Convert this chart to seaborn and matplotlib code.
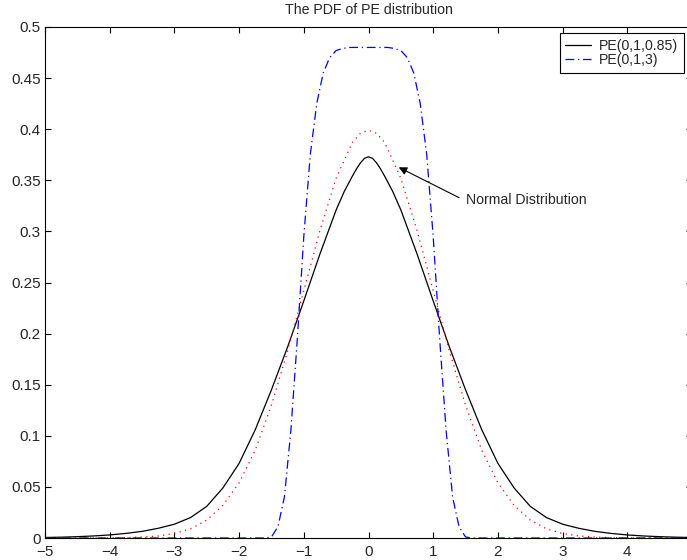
import numpy as np
import pandas as pd
import matplotlib
matplotlib.use("Agg")
import matplotlib.pyplot as plt
import seaborn as sns

# ---- data ----
x_pe085 = [-5.0, -4.75, -4.5, -4.25, -4.0, -3.75, -3.5, -3.25, -3.0, -2.75, -2.5, -2.25,
           -2.0, -1.75, -1.5, -1.25, -1.0, -0.75, -0.5, -0.375, -0.25, -0.1875, -0.125,
           -0.0625, 0.0, 0.0625, 0.125, 0.1875, 0.25, 0.375, 0.5, 0.75, 1.0, 1.25, 1.5,
           1.75, 2.0, 2.25, 2.5, 2.75, 3.0, 3.25, 3.5, 3.75, 4.0, 4.25, 4.5, 4.75, 5.0]
y_pe085 = [0.0005, 0.0008, 0.0013, 0.002, 0.003, 0.0045, 0.0065, 0.0095, 0.0135, 0.020,
           0.031, 0.049, 0.073, 0.106, 0.145, 0.187, 0.232, 0.278, 0.321, 0.339, 0.354,
           0.361, 0.367, 0.3715, 0.373, 0.3715, 0.367, 0.361, 0.354, 0.339, 0.321,
           0.278, 0.232, 0.187, 0.145, 0.106, 0.073, 0.049, 0.031, 0.020, 0.0135,
           0.0095, 0.0065, 0.0045, 0.003, 0.002, 0.0013, 0.0008, 0.0005]

x_normal = [-5.0, -4.5, -4.0, -3.75, -3.5, -3.25, -3.0, -2.75, -2.5, -2.25, -2.0, -1.75,
            -1.5, -1.25, -1.0, -0.75, -0.5, -0.25, -0.125, 0.0, 0.125, 0.25, 0.5, 0.75,
            1.0, 1.25, 1.5, 1.75, 2.0, 2.25, 2.5, 2.75, 3.0, 3.25, 3.5, 3.75, 4.0, 4.5, 5.0]
y_normal = [0.0, 0.0, 0.0001, 0.0004, 0.0009, 0.002, 0.0044, 0.009, 0.0175, 0.032, 0.054,
            0.086, 0.130, 0.183, 0.242, 0.301, 0.352, 0.387, 0.396, 0.399, 0.396, 0.387,
            0.352, 0.301, 0.242, 0.183, 0.130, 0.086, 0.054, 0.032, 0.0175, 0.009,
            0.0044, 0.002, 0.0009, 0.0004, 0.0001, 0.0, 0.0]

x_pe3 = [-5.0, -1.6, -1.5, -1.4, -1.3, -1.2, -1.1, -1.0, -0.9, -0.8, -0.7, -0.6, -0.5,
         -0.4, -0.3, -0.2, -0.1, 0.0, 0.1, 0.2, 0.3, 0.4, 0.5, 0.6, 0.7, 0.8, 0.9, 1.0,
         1.1, 1.2, 1.3, 1.4, 1.5, 1.6, 5.0]
y_pe3 = [0.0, 0.0, 0.001, 0.011, 0.040, 0.105, 0.195, 0.295, 0.375, 0.425, 0.455, 0.470,
         0.477, 0.479, 0.480, 0.480, 0.480, 0.480, 0.480, 0.480, 0.480, 0.479, 0.477,
         0.470, 0.455, 0.425, 0.375, 0.295, 0.195, 0.105, 0.040, 0.011, 0.001, 0.0, 0.0]

legend_labels = ["PE(0,1,0.85)", "PE(0,1,3)"]
x_ticks = [-5, -4, -3, -2, -1, 0, 1, 2, 3, 4]
y_ticks = [0, 0.05, 0.1, 0.15, 0.2, 0.25, 0.3, 0.35, 0.4, 0.45, 0.5]
y_tick_labels = ["0", "0.05", "0.1", "0.15", "0.2", "0.25", "0.3", "0.35", "0.4", "0.45", "0.5"]
title = "The PDF of PE distribution"
annot_text = "Normal Distribution"

# ---- style ----
sns.set_style("ticks")
plt.rcParams["font.family"] = ["Liberation Sans", "DejaVu Sans"]
plt.rcParams["font.size"] = 10
plt.rcParams["xtick.direction"] = "in"
plt.rcParams["ytick.direction"] = "in"

fig = plt.figure(figsize=(6.87, 5.6), dpi=100)
ax = fig.add_axes([45 / 687, 1 - 538 / 560, 647 / 687, 511 / 560])

sns.lineplot(x=x_pe085, y=y_pe085, ax=ax, color="black", linewidth=0.9, sort=False)
l_black = ax.lines[-1]
sns.lineplot(x=x_normal, y=y_normal, ax=ax, color="red", linewidth=0.9, sort=False)
l_red = ax.lines[-1]
l_red.set_dashes((1, 3.5))
sns.lineplot(x=x_pe3, y=y_pe3, ax=ax, color="blue", linewidth=0.9, sort=False)
l_blue = ax.lines[-1]
l_blue.set_dashes((7, 3, 1, 3))

ax.set_xlim(-5, 5)
ax.set_ylim(0, 0.5)
ax.set_xticks(x_ticks)
ax.set_xticklabels([str(t).replace("-", "\u2212") for t in x_ticks])
ax.set_yticks(y_ticks)
ax.set_yticklabels(y_tick_labels)
ax.tick_params(axis="both", which="both", top=True, right=True, length=4,
               width=0.8, labelsize=11, color="black")
ax.tick_params(axis="x", pad=5)
ax.tick_params(axis="y", pad=3)
for s in ax.spines.values():
    s.set_visible(True)
    s.set_linewidth(0.8)
    s.set_color("black")

ax.set_title(title, fontsize=10.2, pad=9.5)

ax.annotate("", xy=(0.468, 0.3627), xytext=(1.40, 0.333),
            arrowprops=dict(arrowstyle="-|>", color="black", lw=0.8, mutation_scale=12,
                            shrinkA=0, shrinkB=0))
ax.text(1.5, 0.331, annot_text, fontsize=10.2, ha="left", va="center")

leg = fig.legend([l_black, l_blue], legend_labels, loc="upper right",
                 bbox_to_anchor=(684 / 687, 1 - 33 / 560), fontsize=10.2,
                 frameon=True, fancybox=False, framealpha=1, edgecolor="black",
                 handlelength=1.8, handletextpad=0.6, borderpad=0.4, labelspacing=0.05,
                 borderaxespad=0)
leg.get_frame().set_linewidth(0.8)

fig.savefig("out.png", dpi=100)
